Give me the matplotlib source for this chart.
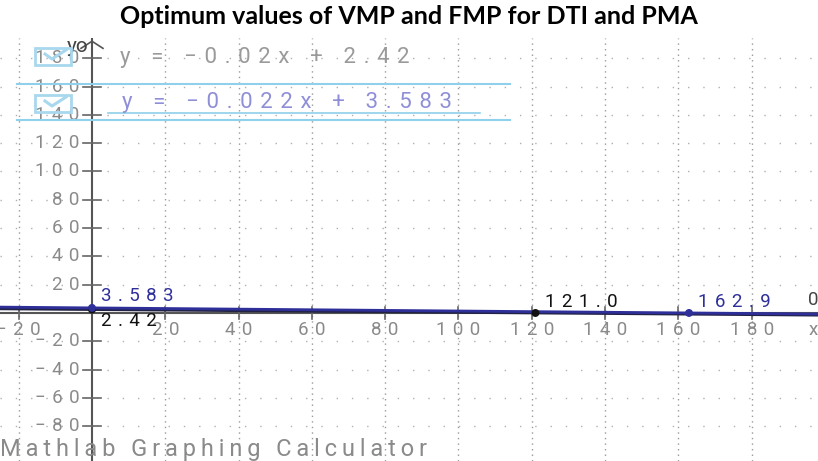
import numpy as np
import matplotlib.pyplot as plt

# equations shown in the calculator
slopes = [-0.02, -0.022]
intercepts = [2.42, 3.583]
eq_labels = ["y = −0.02x + 2.42", "y = −0.022x + 3.583"]
line_colors = ["#222244", "#2f2f9a"]

# marked points (intercepts) and their labels
pt_x = [0, 0, 121.0, 162.9]
pt_y = [2.42, 3.583, 0, 0]
pt_text = ["2.42", "3.583", "121.0", "162.9"]
pt_colors = ["#111111", "#2f2f9a", "#111111", "#2f2f9a"]

x_ticks = [-20, 20, 40, 60, 80, 100, 120, 140, 160, 180]
y_ticks = [-80, -60, -40, -20, 20, 40, 60, 80, 100, 120, 140, 160, 180]

FAM = ["Roboto", "DejaVu Sans"]


def spaced(s, gap="\u2004"):
    # the phone screenshot is stretched sideways, so letters sit far apart
    return gap.join(s)


def num(v):
    return "−%d" % -v if v < 0 else str(v)


fig = plt.figure(figsize=(8.18, 4.61), dpi=100)
fig.patch.set_facecolor("white")
ax = fig.add_axes([0, 0, 1, 423 / 461])
ax.set_facecolor("#f9f9f9")
ax.set_xlim(-25.1, 198.1)
ax.set_ylim(-104.6, 194.3)
ax.axis("off")

grey = "#8a8a8a"
# dotted grid
for xv in x_ticks:
    ax.axvline(xv, color="#9a9a9a", lw=1.0, ls=(0, (1, 3)), zorder=1)
for yv in y_ticks:
    ax.axhline(yv, color="#b0b0b0", lw=1.0, ls=(0, (1, 10)), zorder=1)

# axes
ax.axhline(0, color="#555555", lw=1.5, zorder=2)
ax.axvline(0, color="#555555", lw=1.5, zorder=2)
for xv in x_ticks:
    ax.plot([xv, xv], [-4, 4], color="#666666", lw=1.2, zorder=2)
    ax.text(xv, -5.5, spaced(num(xv)), ha="center", va="top",
            fontsize=13.5, color=grey, family=FAM, zorder=3)
for yv in y_ticks:
    ax.plot([-2.5, 2.5], [yv, yv], color="#666666", lw=1.2, zorder=2)
    ax.text(-3.4, yv, spaced(num(yv)), ha="right", va="center",
            fontsize=13.5, color=grey, family=FAM, zorder=3)

# arrow and axis names
ax.plot([-3, 0, 3], [187, 192, 187], color="#555555", lw=1.2, clip_on=False, zorder=3)
ax.text(-1, 188, "yo", ha="right", va="center", fontsize=15, color="#444444",
        family=FAM, zorder=3)
ax.text(198.1, -5.5, "x", ha="right", va="top", fontsize=13.5, color=grey, family=FAM)
ax.text(198.1, 3, "0", ha="right", va="bottom", fontsize=13.5, color="#444444", family=FAM)

# lines
xs = np.array(ax.get_xlim())
for m, b, c in zip(slopes, intercepts, line_colors):
    ax.plot(xs, m * xs + b, color=c, lw=2, zorder=4)

# points
ax.scatter(pt_x, pt_y, c=pt_colors, s=22, zorder=5)
offsets = [(2.5, -2, "top"), (2.5, 2, "bottom"), (2.5, 1.5, "bottom"), (2.5, 1.5, "bottom")]
for x, y, t, c, (dx, dy, va) in zip(pt_x, pt_y, pt_text, pt_colors, offsets):
    ax.text(x + dx, y + dy, spaced(t), color=c, fontsize=13.5, family=FAM,
            ha="left", va=va, zorder=6)

# equation list overlay (pixel coordinates)
ov = fig.add_axes([0, 0, 1, 1], facecolor="none")
ov.set_xlim(0, 818)
ov.set_ylim(461, 0)
ov.axis("off")
ov.plot([17, 510], [84, 84], color="#8fd0ea", lw=1.5)
ov.plot([17, 510], [120, 120], color="#8fd0ea", lw=1.5)
ov.plot([108, 480], [113, 113], color="#8fd0ea", lw=1.2)
for yb in [48, 95]:
    ov.add_patch(plt.Rectangle((35, yb), 36, 17, fill=False, ec="#a8d8ee", lw=2))
    ov.plot([45, 52, 66], [yb + 6, yb + 11, yb + 2], color="#a8d8ee", lw=2.2)
ov.text(120, 58, spaced(eq_labels[0]), fontsize=16, color="#9a9a9a",
        family=FAM, va="center", ha="left")
ov.text(122, 102, spaced(eq_labels[1]), fontsize=16, color="#8f8fd8",
        family=FAM, va="center", ha="left")
ov.text(0, 449, spaced("Mathlab Graphing Calculator", "\u2009"), fontsize=17,
        color="#8a8a8a", family=FAM, va="center", ha="left")

fig.text(0.5, 1 - 17 / 461, "Optimum values of VMP and FMP for DTI and PMA",
         ha="center", va="center", fontsize=18, fontweight="bold", family="Lato")

plt.savefig("out.png", dpi=100)
